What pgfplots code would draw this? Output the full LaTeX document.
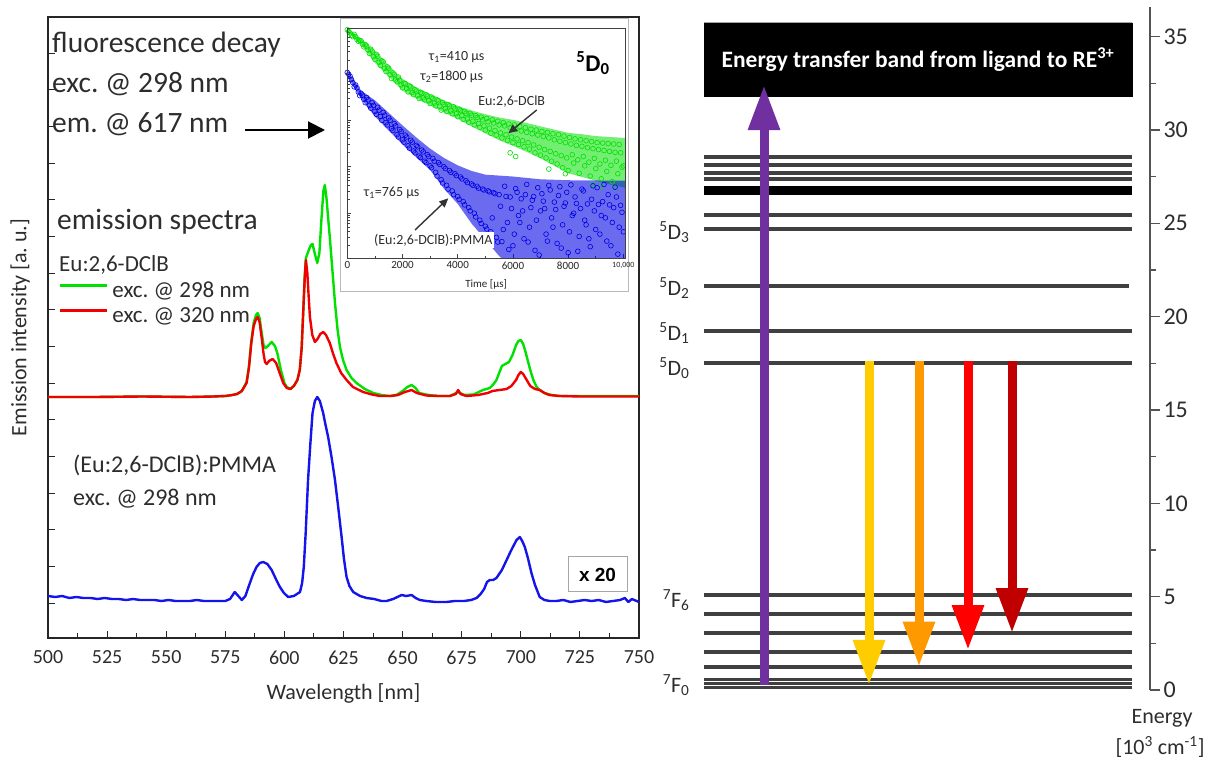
\documentclass[border=0pt]{standalone}
\usepackage{pgfplots}
\pgfplotsset{compat=1.18}
\usepackage{pgfplotstable}
\usepackage{fontspec}
\setmainfont{Carlito}
\newfontfamily\arialfont{Liberation Sans}
\usetikzlibrary{arrows.meta}

\newcommand{\fs}[1]{\fontsize{#1}{#1}\selectfont}

\definecolor{specgreen}{RGB}{0,225,0}
\definecolor{specred}{RGB}{240,0,0}
\definecolor{specblue}{RGB}{20,20,235}
\definecolor{decaygreen}{RGB}{0,225,0}
\definecolor{decayblue}{RGB}{0,0,230}
\definecolor{levelgray}{RGB}{64,64,64}
\definecolor{excpurple}{RGB}{112,48,160}
\definecolor{emyellow}{RGB}{255,204,0}
\definecolor{emorange}{RGB}{255,153,0}
\definecolor{emred}{RGB}{255,0,0}
\definecolor{emdarkred}{RGB}{192,0,0}
\definecolor{txtgray}{RGB}{45,45,45}

% ---------------- emission spectra (offset intensity, a.u.) ----------------
\pgfplotstableread{
nm h
500 241
520 241
540 241.5
560 241
570 241.5
575 242
578 243
580 244
582 247
584 256
585 272
586 297
587 315
588 323
588.7 325
589.5 320
590.4 305
591.2 293
592 290
593 292
594.6 296
596 292
597 285
598.5 268
600 255
601 251
602.5 249
604 252
605.5 258
606.5 268
607.3 290
608 328
608.6 362
609.1 380
609.7 384
610.5 389
611.2 393
611.9 394
612.8 385
613.9 375
614.8 385
615.7 420
616.5 447
617.1 453
617.8 440
618.5 420
619.2 401
620.3 368
621.4 335
622.5 308
623.5 291
624.8 278
626.3 268
628.4 260
630.5 255
634 249
637.6 245
641 243
644.6 242
647.4 243
650 247
652 251
653.8 253
655.5 250
657 245
661 243
665 242
670 242
673.5 246
676 243
680 243.5
684 248
686.9 250
688.5 254
689.7 258
691 266
692 272
693.5 274
695 276
696.5 283
698 293
699 297
700 298
701 294
702 286
703 277
704 268
705.3 258
706.7 251
708 248
710 245
713 243
716 242
725 242
740 242
750 242
}\specGreen

\pgfplotstableread{
nm h
500 241
520 241
540 241.5
560 241
570 241.5
575 242
578 243
580 244
582 247
584 255
585 270
586 295
587 312
588 319
588.7 321
589.5 316
590.4 300
591.2 284
591.8 276
592.5 274
593.5 277
595 279
596.5 275
598 265
599.5 255
601 250
602.5 249
604 252
605.5 258
606.5 268
607.3 290
608 328
608.6 360
609.1 378
609.7 365
610.3 340
610.8 321
611.8 303
612.9 296
614 299
615.2 304
616.4 306
617.6 303
619.2 295
620.5 285
622 275
624 265
626.3 258
629 251
633.3 246
637 243.5
640.4 242
645 242
648 243
651 246
653.8 248
656 245
660 242.5
665 242
670 242
672.5 244
673.5 248
674.5 244
677 242
682 243
686 245
688 247
691 248
694 249
696 252
698 258
699 263
700 266
701 264
702.5 258
704 252
706 249
708 248
710 245
712 243
716.5 242
725 241.5
735 241.5
750 241.5
}\specRed

\pgfplotstableread{
nm h
500 42
503 41
506 42
509 40
512 41
515 40
518 40
521 39
524 40
527 39
530 39
533 38
536 39
539 38
542 38
545 38
548 37
551 38
554 37
557 37
560 37
563 38
566 37
569 37
572 37
575 37
577 39
579 46
580.5 42
582 38
583.5 42
585.4 55
586.8 64
588.2 71
589.6 75
591 76
592.8 74
594.6 68
596.4 59
598.1 51
599.8 45
601.6 41
604 42
606.6 46
607.5 55
608.2 71
609 105
610 158
611 195
611.9 225
612.9 237
613.9 241
615 237
616.4 225
617.5 212
618.5 201
620 180
621.4 158
622.8 130
624.2 101
625.2 79
626.3 61
627.5 52
629.1 46
632 42
634.8 40
638 39
641 37
643.2 37
646 39
649.6 43
651.5 42
653.8 43
655.5 40
657.3 38
660 37
664 36
668.6 36
672 37
676 37
679 38
681.3 40
683 44
684.5 49
685.7 56
686.9 58
688.3 58
689.7 60
692 68
694 78
696 88
698.2 98
699.6 101
700.6 97
701.7 91
703 80
704.5 65
706 53
708 41
710 38
712.3 37
715 37
718 38
721 36
724 37
727 38
730 37
733 38
736 36
739 37
742 38
744 40
745.5 36
747 39
750 36
}\specBlue

% ---------------- 5D0 decay curves (log10 of counts) ----------------
\pgfplotstableread{
t logI
0 3.95
50 3.91
100 3.88
150 3.83
200 3.80
250 3.85
300 3.80
350 3.74
400 3.70
450 3.72
500 3.71
550 3.64
600 3.58
650 3.63
700 3.60
750 3.51
800 3.44
850 3.53
900 3.49
950 3.37
1000 3.31
1050 3.42
1100 3.38
1150 3.25
1200 3.18
1250 3.28
1300 3.26
1350 3.12
1400 3.05
1450 3.15
1500 3.12
1550 2.98
1600 2.90
1650 3.02
1700 2.99
1750 2.87
1800 2.83
1850 2.93
1900 2.86
1950 2.76
2000 2.70
2050 2.80
2100 2.79
2150 2.68
2200 2.61
2250 2.74
2300 2.72
2350 2.60
2400 2.55
2450 2.66
2500 2.63
2550 2.53
2600 2.47
2650 2.60
2700 2.58
2750 2.48
2800 2.44
2850 2.55
2900 2.52
2950 2.42
3000 2.36
3050 2.50
3100 2.47
3150 2.37
3200 2.31
3250 2.44
3300 2.42
3350 2.30
3400 2.22
3450 2.38
3500 2.34
3550 2.25
3600 2.19
3650 2.34
3700 2.31
3750 2.20
3800 2.14
3850 2.29
3900 2.25
3950 2.14
4000 2.08
4050 2.24
4100 2.21
4150 2.10
4200 2.02
4250 2.19
4300 2.15
4350 2.03
4400 1.96
4450 2.15
4500 2.11
4550 1.98
4600 1.90
4650 2.10
4700 2.06
4750 1.93
4800 1.85
4850 2.07
4900 2.01
4950 1.88
5000 1.79
5050 2.04
5100 1.97
5150 1.83
5200 1.72
5250 2.01
5300 1.94
5350 1.78
5400 1.68
5450 1.98
5500 1.90
5550 1.73
5600 1.62
5650 1.95
5700 1.88
5750 1.69
5800 1.57
5850 1.92
5900 1.84
5950 1.64
6000 1.52
6050 1.90
6100 1.80
6150 1.60
6200 1.48
6250 1.87
6300 1.77
6350 1.56
6400 1.43
6450 1.84
6500 1.74
6550 1.52
6600 1.38
6650 1.81
6700 1.71
6750 1.47
6800 1.30
6850 1.79
6900 1.68
6950 1.42
7000 1.25
7050 1.76
7100 1.65
7150 1.37
7200 1.19
7250 1.74
7300 1.62
7350 1.33
7400 1.12
7450 1.71
7500 1.58
7550 1.28
7600 1.06
7650 1.69
7700 1.55
7750 1.24
7800 0.98
7850 1.66
7900 1.52
7950 1.19
8000 0.92
8050 1.63
8100 1.49
8150 1.26
8200 1.08
8250 1.60
8300 1.46
8350 1.15
8400 0.86
8450 1.58
8500 1.44
8550 1.22
8600 1.02
8650 1.56
8700 1.41
8750 1.10
8800 0.80
8850 1.54
8900 1.39
8950 1.18
9000 0.96
9050 1.52
9100 1.37
9150 1.06
9200 0.74
9250 1.51
9300 1.35
9350 1.14
9400 0.90
9450 1.50
9500 1.33
9550 1.03
9600 0.68
9650 1.49
9700 1.31
9750 1.12
9800 0.85
9850 1.48
9900 1.30
9950 0.99
10000 1.02
5900 1.30
6100 1.22
7300 0.95
7900 0.85
8900 0.62
9200 0.58
9700 0.55
}\decayGreen

\pgfplotstableread{
t logI
0 3.03
50 2.99
100 2.95
150 2.88
200 2.81
250 2.72
300 2.76
350 2.70
400 2.61
450 2.53
500 2.58
550 2.54
600 2.45
650 2.38
700 2.49
750 2.44
800 2.32
850 2.26
900 2.38
950 2.32
1000 2.19
1050 2.13
1100 2.28
1150 2.22
1200 2.08
1250 2.00
1300 2.17
1350 2.11
1400 1.95
1450 1.90
1500 2.05
1550 2.00
1600 1.82
1650 1.78
1700 1.93
1750 1.88
1800 1.69
1850 1.64
1900 1.80
1950 1.76
2000 1.58
2050 1.53
2100 1.68
2150 1.64
2200 1.45
2250 1.40
2300 1.57
2350 1.53
2400 1.34
2450 1.30
2500 1.46
2550 1.43
2600 1.23
2650 1.20
2700 1.36
2750 1.32
2800 1.12
2850 1.09
2900 1.26
2950 1.22
3000 1.02
3050 0.98
3100 1.18
3150 1.12
3200 0.88
3250 0.80
3300 1.09
3350 1.05
3400 0.72
3450 0.65
3500 1.00
3550 0.96
3600 0.60
3650 0.52
3700 0.92
3750 0.88
3800 0.48
3850 0.40
3900 0.85
3950 0.81
4000 0.36
4050 0.30
4100 0.78
4150 0.74
4200 0.25
4250 0.18
4300 0.70
4350 0.66
4400 0.12
4450 0.05
4500 0.63
4550 0.60
4600 0.00
4650 -0.08
4700 0.58
4750 0.54
4800 -0.15
4850 -0.22
4900 0.52
4950 0.50
5000 -0.28
5050 -0.34
5100 0.48
5150 0.46
5200 -0.40
5250 -0.10
5300 0.44
5350 0.42
5400 -0.52
5450 -0.62
5500 0.40
5550 0.15
5600 -0.61
5650 -0.35
5700 0.58
5750 0.36
5800 -0.20
5850 -0.78
5900 0.35
5950 0.10
6000 -0.70
6050 -0.45
6100 0.53
6150 0.45
6200 -0.05
6250 -0.20
6300 0.31
6350 0.05
6400 -0.55
6450 0.40
6500 0.62
6550 -0.62
6600 -0.30
6650 0.12
6700 0.28
6750 0.36
6800 -0.80
6850 -0.15
6900 0.55
6950 -0.90
7000 0.05
7050 0.42
7100 0.26
7150 0.10
7200 -0.45
7250 -0.60
7300 0.60
7350 0.50
7400 -0.10
7450 -0.30
7500 0.24
7550 0.08
7600 -0.65
7650 0.38
7700 0.57
7750 -0.75
7800 -0.25
7850 0.15
7900 0.22
7950 0.45
8000 -0.85
8050 -0.40
8100 0.61
8150 -0.05
8200 0.00
8250 0.35
8300 0.21
8350 -0.82
8400 -0.50
8450 0.10
8500 0.52
8550 0.48
8600 -0.15
8650 -0.25
8700 0.20
8750 -0.55
8800 -0.72
8850 0.30
8900 0.59
8950 0.05
9000 -0.35
9050 0.55
9100 0.19
9150 -0.45
9200 -0.05
9250 0.25
9300 0.62
9350 -0.10
9400 -0.60
9450 0.40
9500 0.18
9550 -0.70
9600 -0.20
9650 0.12
9700 0.56
9750 0.35
9800 -0.88
9850 -0.30
9900 0.17
9950 0.02
10000 -0.40
}\decayBlue

\begin{document}
\frenchspacing
\begin{tikzpicture}[x=1pt,y=1pt]
\useasboundingbox (0,0) rectangle (1210,758);

% ================= emission spectra =================
\begin{axis}[
  at={(48pt,120pt)}, anchor=south west, scale only axis,
  width=591pt, height=621pt,
  xmin=500, xmax=750, ymin=0, ymax=621,
  xtick={500,525,...,750}, minor x tick num=1,
  ytick={35,71.65,108.3,144.95,181.6,218.25,254.9,291.55,328.2,364.85,401.5,438.15,474.8,511.45,548.1,584.75},
  yticklabels={},
  tick pos=left, tick align=inside,
  major tick length=7pt, minor tick length=5pt,
  every tick/.style={black!85, line width=1pt},
  axis line style={black!85, line width=1.3pt},
  /pgf/number format/assume math mode=true,
  /pgf/number format/1000 sep={},
  tick label style={font=\fs{20}, txtgray},
  xticklabel style={yshift=-9pt},
  xlabel={Wavelength [nm]},
  ylabel={Emission intensity [a. u.]},
  label style={font=\fs{22}, txtgray},
  xlabel style={at={(axis description cs:0.5,-0.09)}, anchor=center},
  ylabel style={at={(axis description cs:-0.047,0.5)}, anchor=center},
  legend style={at={(rel axis cs:0.0186,0.5733)}, anchor=north west,
    draw=none, fill=none, font=\fs{23}, text=txtgray,
    row sep=4pt, column sep=4pt, inner sep=0pt, outer sep=0pt,
    nodes={inner sep=0pt, text height=16pt, text depth=5pt}},
  legend cell align=left,
  legend image code/.code={\draw[#1] (0pt,7pt) -- (47pt,7pt);},
]
\addplot[specgreen, line width=2.4pt, line join=round] table[x=nm, y=h] {\specGreen};
\addlegendentry{exc. @ 298 nm}
\addplot[specred, line width=2.4pt, line join=round] table[x=nm, y=h] {\specRed};
\addlegendentry{exc. @ 320 nm}
\addplot[specblue, line width=2.4pt, line join=round, forget plot] table[x=nm, y=h] {\specBlue};
\end{axis}

% annotations of the spectra panel
\node[anchor=base west, font=\fs{29.5}, txtgray, inner sep=0pt] at (52,705.3) {fluorescence decay};
\node[anchor=base west, font=\fs{29.5}, txtgray, inner sep=0pt] at (52,665) {exc. @ 298 nm};
\node[anchor=base west, font=\fs{29.5}, txtgray, inner sep=0pt] at (52,625) {em. @ 617 nm};
\draw[black, line width=2pt, -{Triangle[length=17pt,width=17pt]}] (245,628) -- (325,628);
\node[anchor=base west, font=\fs{29.5}, txtgray, inner sep=0pt] at (57,528) {emission spectra};
\node[anchor=base west, font=\fs{23}, txtgray, inner sep=0pt] at (59,486) {Eu:2,6-DClB};
\node[anchor=base west, font=\fs{24}, txtgray, inner sep=0pt] at (73,285) {(Eu:2,6-DClB):PMMA};
\node[anchor=base west, font=\fs{24}, txtgray, inner sep=0pt] at (73,252.3) {exc. @ 298 nm};
\node[draw=gray!70, line width=1pt, fill=white, font=\arialfont\bfseries\fs{19},
      minimum width=59pt, minimum height=35pt, inner sep=0pt] at (597.5,183.5) {x 20};

% ================= decay inset =================
\draw[gray!55, line width=1pt, fill=white] (340,466) rectangle (628,739);
\begin{axis}[
  at={(347.3pt,499.7pt)}, anchor=south west, scale only axis,
  width=277.7pt, height=230pt,
  xmin=0, xmax=10060, ymin=-0.97, ymax=3.98,
  xtick={0,2000,...,10000}, scaled x ticks=false,
  xticklabels={0,2000,4000,6000,8000,{\fs{8}10,000}},
  minor x tick num=1,
  ytick={0,1,2,3}, yticklabels={},
  minor ytick={-0.699,-0.523,-0.398,-0.301,-0.222,-0.155,-0.097,-0.046,
    0.301,0.477,0.602,0.699,0.778,0.845,0.903,0.954,
    1.301,1.477,1.602,1.699,1.778,1.845,1.903,1.954,
    2.301,2.477,2.602,2.699,2.778,2.845,2.903,2.954,
    3.301,3.477,3.602,3.699,3.778,3.845,3.903,3.954},
  tick pos=left, tick align=inside,
  major tick length=4pt, minor tick length=2.5pt,
  every tick/.style={gray!50!black, line width=0.6pt},
  axis line style={gray!50!black, line width=0.9pt},
  tick label style={font=\fs{11}, gray!30!black},
  xlabel={Time [µs]},
  xlabel style={font=\fs{11}, gray!30!black, at={(axis description cs:0.5,-0.112)}, anchor=center},
]
% spread of the measured counts
\addplot[draw=none, fill=decaygreen, fill opacity=0.55] coordinates {
 (0,3.99)(500,3.76)(1000,3.50)(1500,3.18)(2000,2.89)(2500,2.71)(3000,2.57)(3500,2.43)
 (4000,2.31)(4500,2.21)(5000,2.13)(5500,2.06)(6000,2.01)(6500,1.94)(7000,1.87)(7500,1.80)
 (8000,1.73)(8500,1.70)(9000,1.66)(9500,1.64)(10060,1.62)
 (10060,0.55)(9500,0.62)(9000,0.70)(8500,0.78)(8000,0.86)(7500,1.02)(7000,1.18)(6500,1.32)
 (6000,1.45)(5500,1.57)(5000,1.72)(4500,1.87)(4000,2.03)(3500,2.17)(3000,2.32)(2500,2.47)
 (2000,2.64)(1500,2.94)(1000,3.24)(500,3.62)(0,3.91)};
\addplot[only marks, mark=o, mark size=2.4pt, decaygreen, mark options={line width=0.6pt}]
  table[x=t, y=logI] {\decayGreen};
\addplot[draw=none, fill=decayblue, fill opacity=0.58] coordinates {
 (0,3.08)(250,2.86)(500,2.64)(1000,2.43)(1500,2.16)(2000,1.89)(2500,1.63)(3000,1.39)
 (3500,1.19)(4000,1.03)(4500,0.91)(5000,0.83)(5500,0.81)(6000,0.79)(7000,0.73)(8000,0.71)(10060,0.70)
 (10060,-1.2)(6000,-1.2)(5500,-0.92)(5000,-0.57)(4500,-0.22)(4000,0.20)(3500,0.53)(3000,0.93)
 (2500,1.20)(2000,1.48)(1500,1.78)(1000,2.08)(500,2.46)(250,2.70)(0,2.96)};
\addplot[only marks, mark=o, mark size=2.4pt, decayblue, mark options={line width=0.6pt}]
  table[x=t, y=logI] {\decayBlue};
\end{axis}
\draw[gray!50!black, line width=0.9pt] (347.3,499.7) rectangle (625,729.7);

% inset labels
\node[font=\fs{14}, txtgray] at (456.7,701.3) {τ\textsubscript{1}=410 µs};
\node[font=\fs{14}, txtgray] at (451.7,681.3) {τ\textsubscript{2}=1800 µs};
\node[font=\bfseries\fs{24}, black] at (593,695) {\textsuperscript{5}D\textsubscript{0}};
\node[font=\fs{14}, txtgray] at (511.7,656.3) {Eu:2,6-DClB};
\draw[gray!40!black, line width=1.4pt, -{Triangle[length=9pt,width=8pt]}] (536.7,648) -- (508.3,624.7);
\node[font=\fs{14}, txtgray] at (391.7,565.3) {τ\textsubscript{1}=765 µs};
\node[font=\fs{14}, txtgray, fill=white, inner sep=2pt] at (433.3,518) {(Eu:2,6-DClB):PMMA};
\draw[gray!40!black, line width=1.4pt, -{Triangle[length=9pt,width=8pt]}] (415,528) -- (448.3,559.7);

% ================= energy level diagram =================
\begin{axis}[
  at={(700pt,68pt)}, anchor=south west, scale only axis,
  width=450pt, height=683.3pt,
  xmin=700, xmax=1150, ymin=0, ymax=36.6,
  axis x line=none, axis y line=right,
  y axis line style={-, draw=levelgray!90, line width=1.8pt},
  ytick={0,5,...,35}, minor ytick={2.5,7.5,...,32.5},
  tick align=outside, major tick length=10pt, minor tick length=6pt,
  every tick/.style={levelgray!90, line width=1.4pt},
  /pgf/number format/assume math mode=true,
  yticklabel style={font=\fs{24}, txtgray},
  clip=false,
]
% ligand band
\addplot[draw=black, fill=black] coordinates {(704,31.78)(1132,31.78)(1132,35.74)(704,35.74)(704,31.78)};
% Eu3+ levels
\addplot[levelgray, line width=4pt] coordinates {(704,28.57)(1132,28.57)};
\addplot[levelgray, line width=4pt] coordinates {(704,28.12)(1132,28.12)};
\addplot[levelgray, line width=4pt] coordinates {(704,27.71)(1132,27.71)};
\addplot[levelgray, line width=4pt] coordinates {(704,27.37)(1132,27.37)};
\addplot[black, line width=9pt] coordinates {(704,26.75)(1132,26.75)};
\addplot[levelgray, line width=4pt] coordinates {(704,25.44)(1132,25.44)};
\addplot[levelgray, line width=4pt] coordinates {(704,24.71)(1132,24.71)};
\addplot[levelgray, line width=4pt] coordinates {(704,21.66)(1129,21.66)};
\addplot[levelgray, line width=4pt] coordinates {(704,19.23)(1132,19.23)};
\addplot[levelgray, line width=4pt] coordinates {(704,17.50)(1132,17.50)};
\addplot[levelgray, line width=4pt] coordinates {(704,5.09)(1132,5.09)};
\addplot[levelgray, line width=4pt] coordinates {(704,4.05)(1132,4.05)};
\addplot[levelgray, line width=4pt] coordinates {(704,3.04)(1132,3.04)};
\addplot[levelgray, line width=4pt] coordinates {(704,2.05)(1132,2.05)};
\addplot[levelgray, line width=4pt] coordinates {(704,1.25)(1132,1.25)};
\addplot[levelgray, line width=3pt] coordinates {(704,0.57)(1132,0.57)};
\addplot[levelgray, line width=3pt] coordinates {(704,0.36)(1132,0.36)};
\addplot[levelgray, line width=3pt] coordinates {(704,0.14)(1132,0.14)};
% excitation and emission transitions
\addplot[excpurple, line width=9pt, -{Triangle[length=45pt,width=30pt]}] coordinates {(764,0.27)(764,32.4)};
\addplot[emyellow, line width=9pt, -{Triangle[length=45pt,width=30pt]}] coordinates {(869,17.6)(869,0.27)};
\addplot[emorange, line width=9pt, -{Triangle[length=45pt,width=30pt]}] coordinates {(919,17.6)(919,1.25)};
\addplot[emred, line width=9pt, -{Triangle[length=45pt,width=30pt]}] coordinates {(968,17.6)(968,2.14)};
\addplot[emdarkred, line width=9pt, -{Triangle[length=45pt,width=30pt]}] coordinates {(1012,17.6)(1012,3.05)};
\end{axis}

\node[font=\bfseries\fs{23.5}, white] at (918,698) {Energy transfer band from ligand to RE\textsuperscript{3+}};
\node[anchor=east, font=\fs{22}, txtgray] at (693,526) {\textsuperscript{5}D\textsubscript{3}};
\node[anchor=east, font=\fs{22}, txtgray] at (693,470) {\textsuperscript{5}D\textsubscript{2}};
\node[anchor=east, font=\fs{22}, txtgray] at (693,425) {\textsuperscript{5}D\textsubscript{1}};
\node[anchor=east, font=\fs{22}, txtgray] at (693,390) {\textsuperscript{5}D\textsubscript{0}};
\node[anchor=east, font=\fs{22}, txtgray] at (693,158) {\textsuperscript{7}F\textsubscript{6}};
\node[anchor=east, font=\fs{22}, txtgray] at (693,73) {\textsuperscript{7}F\textsubscript{0}};
\node[font=\fs{22}, txtgray] at (1162,40) {Energy};
\node[font=\fs{22}, txtgray] at (1160,11) {[10\textsuperscript{3} cm\textsuperscript{-1}]};
\end{tikzpicture}
\end{document}
